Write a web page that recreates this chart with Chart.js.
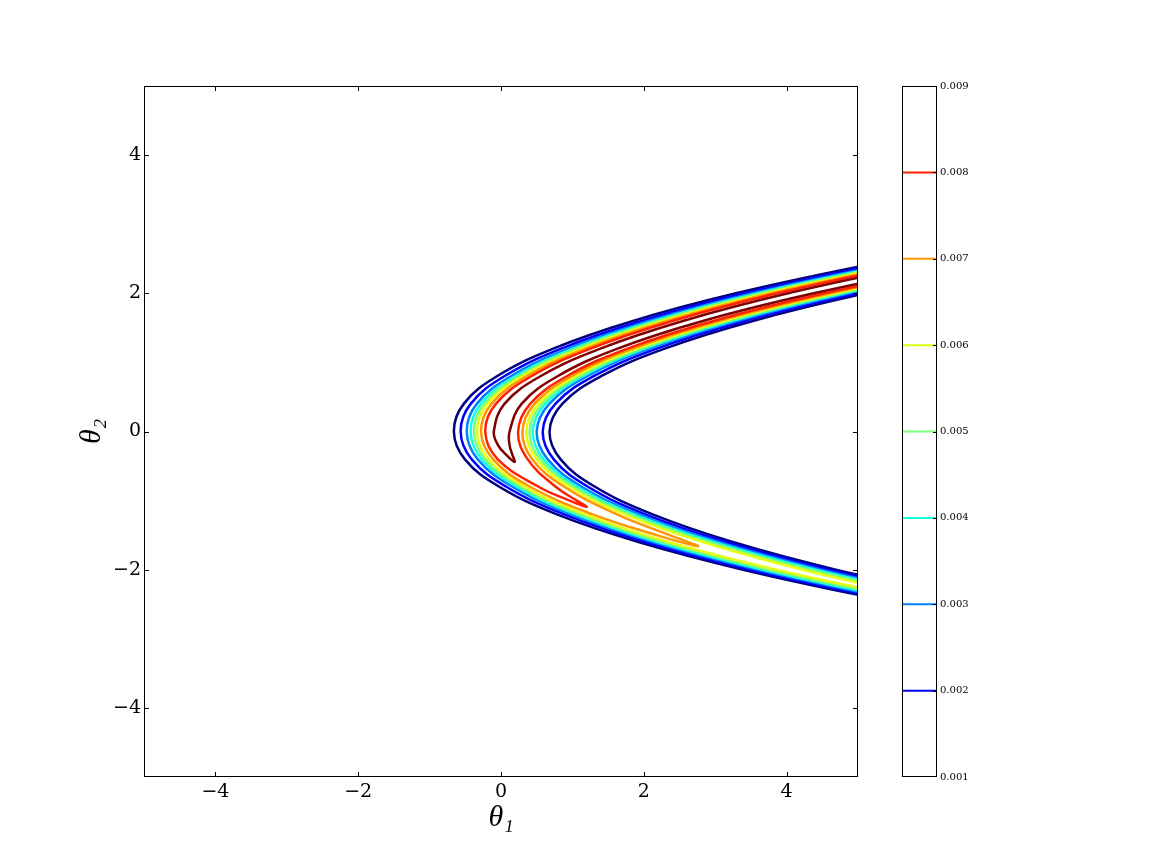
<!DOCTYPE html>
<html lang="en">
<head>
<meta charset="UTF-8" />
<title>Posterior contours</title>
<script src="https://cdn.jsdelivr.net/npm/chart.js"></script>
<style>
  body { margin: 0; background: #fff; }
  #wrap { position: relative; width: 1152px; height: 864px; }
  #main { position: absolute; left: 0; top: 0; }
  #cbar { position: absolute; left: 880px; top: 0; }
</style>
</head>
<body>
<div id="wrap">
  <canvas id="main" width="1152" height="864"></canvas>
  <canvas id="cbar" width="120" height="864"></canvas>
</div>
<script>
// contour levels and their jet colours
const levels = [0.001, 0.002, 0.003, 0.004, 0.005, 0.006, 0.007, 0.008, 0.009];
const levelColors = ['#000080', '#0000ff', '#0080ff', '#15ffe2', '#7cff79', '#e2ff15', '#ff9700', '#ff2100', '#800000'];

const xTicks = [-4, -2, 0, 2, 4];
const yTicks = [-4, -2, 0, 2, 4];
const cbTicks = [0.001, 0.002, 0.003, 0.004, 0.005, 0.006, 0.007, 0.008, 0.009];
const cbLines = [0.002, 0.003, 0.004, 0.005, 0.006, 0.007, 0.008];

// levels 0.001..0.006: two open curves each (outer and inner side of the banana), sampled at these theta2 values
const yFull = [2.7, 2.4, 2.0, 1.6, 1.2, 0.8, 0.4, 0, -0.4, -0.8, -1.2, -1.6, -2.0, -2.4, -2.7];

const outer001 = [6.645, 5.078, 3.29, 1.848, 0.732, -0.058, -0.522, -0.66, -0.508, -0.024, 0.784, 1.926, 3.39, 5.173, 6.723];
const inner001 = [8.665, 7.018, 5.11, 3.528, 2.292, 1.402, 0.858, 0.68, 0.832, 1.316, 2.124, 3.246, 4.69, 6.463, 8.003];
const outer002 = [6.775, 5.208, 3.414, 1.967, 0.844, 0.046, -0.425, -0.565, -0.413, 0.074, 0.886, 2.026, 3.492, 5.283, 6.843];
const inner002 = [8.535, 6.888, 4.986, 3.409, 2.18, 1.298, 0.761, 0.585, 0.737, 1.218, 2.022, 3.146, 4.588, 6.353, 7.883];
const outer003 = [6.885, 5.318, 3.524, 2.072, 0.943, 0.137, -0.34, -0.48, -0.328, 0.161, 0.977, 2.121, 3.595, 5.393, 6.953];
const inner003 = [8.425, 6.778, 4.876, 3.304, 2.081, 1.207, 0.676, 0.50, 0.652, 1.131, 1.931, 3.051, 4.485, 6.243, 7.773];
const outer004 = [6.955, 5.393, 3.597, 2.142, 1.009, 0.198, -0.283, -0.425, -0.271, 0.221, 1.044, 2.196, 3.675, 5.483, 7.048];
const inner004 = [8.355, 6.703, 4.803, 3.234, 2.015, 1.146, 0.619, 0.445, 0.595, 1.071, 1.864, 2.976, 4.405, 6.153, 7.678];
const outer005 = [7.02, 5.453, 3.655, 2.198, 1.062, 0.247, -0.237, -0.38, -0.223, 0.276, 1.104, 2.266, 3.755, 5.573, 7.148];
const inner005 = [8.29, 6.643, 4.745, 3.178, 1.962, 1.097, 0.573, 0.40, 0.547, 1.016, 1.804, 2.906, 4.325, 6.063, 7.578];
const outer006 = [7.08, 5.513, 3.713, 2.254, 1.115, 0.296, -0.191, -0.335, -0.176, 0.331, 1.174, 2.346, 3.855, 5.708, 7.303];
const inner006 = [8.23, 6.583, 4.687, 3.122, 1.909, 1.048, 0.527, 0.355, 0.50, 0.961, 1.734, 2.826, 4.225, 5.928, 7.423];

// levels 0.007..0.009 close inside the lower arm: one U-shaped curve each
const u007Y = [2.7, 2.4, 2.0, 1.6, 1.2, 0.8, 0.4, 0, -0.4, -0.8, -1.2, -1.5, -1.66, -1.5, -1.2, -0.8, -0.4, 0, 0.4, 0.8, 1.2, 1.6, 2.0, 2.4, 2.7];
const u007X = [7.155, 5.588, 3.786, 2.324, 1.181, 0.357, -0.134, -0.28, -0.113, 0.406, 1.284, 2.18, 2.76, 2.363, 1.624, 0.886, 0.437, 0.30, 0.47, 0.987, 1.843, 3.052, 4.614, 6.508, 8.155];
const u008Y = [2.7, 2.4, 2.0, 1.6, 1.2, 0.8, 0.4, 0, -0.4, -0.8, -1.0, -1.09, -1.0, -0.8, -0.4, 0, 0.4, 0.8, 1.2, 1.6, 2.0, 2.4, 2.7];
const u008X = [7.235, 5.668, 3.867, 2.401, 1.253, 0.424, -0.072, -0.22, -0.048, 0.526, 0.96, 1.2, 1.06, 0.766, 0.372, 0.24, 0.408, 0.92, 1.771, 2.975, 4.533, 6.428, 8.075];
const u009Y = [2.7, 2.4, 2.0, 1.6, 1.2, 0.8, 0.4, 0, -0.2, -0.35, -0.44, -0.35, -0.2, 0, 0.4, 0.8, 1.2, 1.6, 2.0, 2.4, 2.7];
const u009X = [7.395, 5.828, 4.02, 2.548, 1.392, 0.552, 0.048, -0.10, -0.04, 0.084, 0.19, 0.164, 0.12, 0.12, 0.288, 0.792, 1.632, 2.828, 4.38, 6.268, 7.915];

const curves = [
  [0, outer001, yFull], [0, inner001, yFull],
  [1, outer002, yFull], [1, inner002, yFull],
  [2, outer003, yFull], [2, inner003, yFull],
  [3, outer004, yFull], [3, inner004, yFull],
  [4, outer005, yFull], [4, inner005, yFull],
  [5, outer006, yFull], [5, inner006, yFull],
  [6, u007X, u007Y], [7, u008X, u008Y], [8, u009X, u009Y]
];

const tickFont = 'DejaVu Serif, serif';
const titleFont = 'Liberation Serif, DejaVu Serif, serif';

function minusLabel(v) {
  return v < 0 ? '\u2212' + Math.abs(v) : String(v);
}

// black frame with matplotlib style inward ticks on all four sides
const frame = {
  id: 'frame',
  afterDatasetsDraw(chart) {
    const {ctx, chartArea: a, scales: {x, y}} = chart;
    ctx.save();
    ctx.strokeStyle = '#000';
    ctx.lineWidth = 1;
    ctx.strokeRect(a.left + 0.5, a.top + 0.5, a.right - a.left - 1, a.bottom - a.top - 1);
    ctx.beginPath();
    xTicks.forEach(v => {
      const px = Math.round(x.getPixelForValue(v)) + 0.5;
      ctx.moveTo(px, a.bottom); ctx.lineTo(px, a.bottom - 5);
      ctx.moveTo(px, a.top); ctx.lineTo(px, a.top + 5);
    });
    yTicks.forEach(v => {
      const py = Math.round(y.getPixelForValue(v)) + 0.5;
      ctx.moveTo(a.left, py); ctx.lineTo(a.left + 5, py);
      ctx.moveTo(a.right, py); ctx.lineTo(a.right - 5, py);
    });
    ctx.stroke();
    ctx.restore();
  }
};

new Chart(document.getElementById('main'), {
  type: 'scatter',
  data: {
    datasets: curves.map(([li, xs, ys]) => ({
      data: xs.map((x, i) => ({x: x, y: ys[i]})),
      showLine: true,
      borderColor: levelColors[li],
      borderWidth: 2.5,
      pointRadius: 0,
      tension: 0.4,
      fill: false,
      order: levels.length - li
    }))
  },
  options: {
    responsive: false,
    animation: false,
    devicePixelRatio: 1,
    layout: { padding: { left: 0, top: 86, right: 294, bottom: 0 } },
    elements: { line: { capBezierPoints: false } },
    plugins: { legend: { display: false }, tooltip: { enabled: false } },
    scales: {
      x: {
        type: 'linear', min: -5, max: 5,
        afterBuildTicks: axis => { axis.ticks = xTicks.map(v => ({value: v})); },
        afterFit: axis => { axis.height = 87; },
        grid: { display: false, drawTicks: false },
        border: { display: false },
        ticks: { color: '#000', padding: 4, font: { family: tickFont, size: 19 }, callback: minusLabel, maxRotation: 0 },
        title: { display: true, text: '\u03b8\u2081', color: '#000', font: { family: titleFont, size: 30, style: 'italic' }, padding: { top: 0, bottom: 28 } }
      },
      y: {
        type: 'linear', min: -5, max: 5,
        afterBuildTicks: axis => { axis.ticks = yTicks.map(v => ({value: v})); },
        afterFit: axis => { axis.width = 144; },
        grid: { display: false, drawTicks: false },
        border: { display: false },
        ticks: { color: '#000', padding: 3, font: { family: tickFont, size: 19 }, callback: minusLabel },
        title: { display: true, text: '\u03b8\u2082', color: '#000', font: { family: titleFont, size: 30, style: 'italic' }, padding: { top: 74, bottom: 0 } }
      }
    }
  },
  plugins: [frame]
});

// colour bar: level lines drawn on their own value axis
const cbFrame = {
  id: 'cbFrame',
  afterDatasetsDraw(chart) {
    const {ctx, chartArea: a, scales: {y}} = chart;
    ctx.save();
    ctx.strokeStyle = '#000';
    ctx.lineWidth = 1;
    ctx.strokeRect(a.left + 0.5, a.top + 0.5, a.right - a.left - 1, a.bottom - a.top - 1);
    ctx.beginPath();
    cbLines.forEach(v => {
      const py = Math.round(y.getPixelForValue(v)) + 0.5;
      ctx.moveTo(a.right, py); ctx.lineTo(a.right - 4, py);
    });
    ctx.stroke();
    ctx.restore();
  }
};

new Chart(document.getElementById('cbar'), {
  type: 'scatter',
  data: {
    datasets: cbLines.map(v => ({
      data: [{x: 0, y: v}, {x: 1, y: v}],
      showLine: true,
      borderColor: levelColors[levels.indexOf(v)],
      borderWidth: 2,
      pointRadius: 0
    }))
  },
  options: {
    responsive: false,
    animation: false,
    devicePixelRatio: 1,
    layout: { padding: { left: 22, top: 86, right: 0, bottom: 87 } },
    plugins: { legend: { display: false }, tooltip: { enabled: false } },
    scales: {
      x: { type: 'linear', min: 0, max: 1, display: false },
      y: {
        type: 'linear', position: 'right', min: 0.001, max: 0.009,
        afterBuildTicks: axis => { axis.ticks = cbTicks.map(v => ({value: v})); },
        afterFit: axis => { axis.width = 63; },
        grid: { display: false, drawTicks: false },
        border: { display: false },
        ticks: { color: '#000', padding: 3, font: { family: tickFont, size: 10 }, callback: v => v.toFixed(3) }
      }
    }
  },
  plugins: [cbFrame]
});
</script>
</body>
</html>
